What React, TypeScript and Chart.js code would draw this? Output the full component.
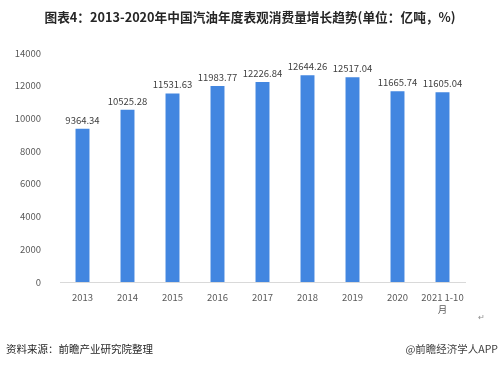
import React, { useEffect, useRef } from "react";
import { Chart, registerables } from "chart.js";

Chart.register(...registerables);

const categories: (string | string[])[] = ["2013", "2014", "2015", "2016", "2017", "2018", "2019", "2020", ["2021 1-10", "月"]];
const values: number[] = [9364.34, 10525.28, 11531.63, 11983.77, 12226.84, 12644.26, 12517.04, 11665.74, 11605.04];
const valueLabels: string[] = ["9364.34", "10525.28", "11531.63", "11983.77", "12226.84", "12644.26", "12517.04", "11665.74", "11605.04"];
const titleText = "图表4：2013-2020年中国汽油年度表观消费量增长趋势(单位：亿吨，%)";
const sourceText = "资料来源：前瞻产业研究院整理";
const brandText = "@前瞻经济学人APP";

const FONT = "'Noto Sans CJK SC', 'Noto Sans', sans-serif";

const dataLabelPlugin = {
  id: "dataLabels",
  afterDatasetsDraw(chart: any) {
    const ctx = chart.ctx;
    const meta = chart.getDatasetMeta(0);
    ctx.save();
    ctx.font = `9.5px ${FONT}`;
    ctx.fillStyle = "#404040";
    ctx.textAlign = "center";
    ctx.textBaseline = "bottom";
    meta.data.forEach((bar: any, i: number) => {
      ctx.fillText(valueLabels[i], bar.x, bar.y - 4);
    });
    ctx.restore();
  },
};

export default function App() {
  const ref = useRef<HTMLCanvasElement>(null);
  useEffect(() => {
    if (!ref.current) return;
    const chart = new Chart(ref.current, {
      type: "bar",
      data: {
        labels: categories as any,
        datasets: [
          {
            data: values,
            backgroundColor: "#4286e0",
            categoryPercentage: 1,
            barPercentage: 0.31,
          },
        ],
      },
      options: {
        animation: false,
        responsive: false,
        maintainAspectRatio: false,
        layout: { padding: { left: 0, right: 35, top: 53, bottom: 0 } },
        plugins: { legend: { display: false }, tooltip: { enabled: false }, title: { display: false } },
        scales: {
          x: {
            grid: { display: false },
            border: { display: true, color: "#d9d9d9", width: 1 },
            ticks: { color: "#595959", font: { size: 9.5, family: FONT }, padding: 2, maxRotation: 0, autoSkip: false },
            afterFit: (s: any) => { s.height = 84; },
          },
          y: {
            min: 0,
            max: 14000,
            grid: { display: false },
            border: { display: false },
            ticks: {
              stepSize: 2000,
              color: "#595959",
              font: { size: 9.5, family: FONT },
              padding: 11,
              callback: (v: any) => String(v),
            },
            afterFit: (s: any) => { s.width = 60; },
          },
        },
      },
      plugins: [dataLabelPlugin],
    });
    return () => chart.destroy();
  }, []);

  return (
    <div style={{ position: "fixed", left: 0, top: 0, width: 500, height: 366, background: "#fff", fontFamily: FONT }}>
      <canvas ref={ref} width={500} height={366} style={{ position: "absolute", left: 0, top: 0 }} />
      <div style={{ position: "absolute", left: 0, top: 7, width: 500, textAlign: "center", fontSize: 12.7, fontWeight: "bold", color: "#262626", whiteSpace: "nowrap" }}>
        {titleText}
      </div>
      <div style={{ position: "absolute", left: 478, top: 311, fontSize: 8, color: "#8c8c8c", whiteSpace: "nowrap" }}>↵</div>
      <div style={{ position: "absolute", left: 6, top: 341, fontSize: 10.5, color: "#262626", whiteSpace: "nowrap" }}>{sourceText}</div>
      <div style={{ position: "absolute", right: 2, top: 341, fontSize: 10.5, color: "#404040", whiteSpace: "nowrap" }}>{brandText}</div>
    </div>
  );
}
